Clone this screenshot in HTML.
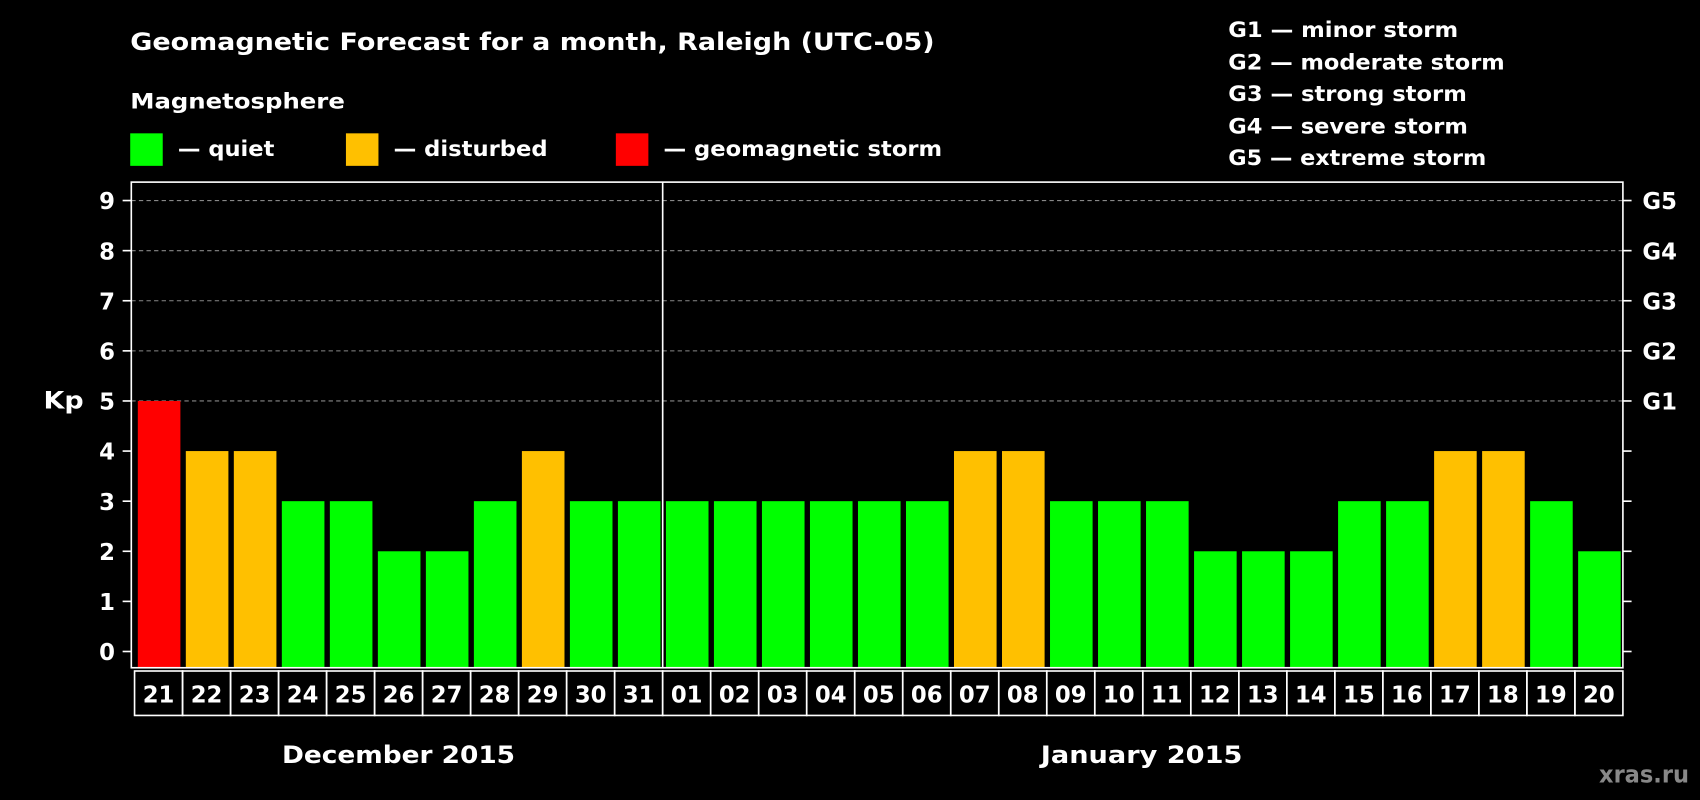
<!DOCTYPE html>
<html><head><meta charset="utf-8"><style>
html,body{margin:0;padding:0;background:#000;}
svg{display:block;}
text{font-family:"DejaVu Sans","Liberation Sans",sans-serif;font-weight:bold;fill:#fff;}
</style></head><body>
<svg id="chart" width="1700" height="800" viewBox="0 0 1568 738" xmlns="http://www.w3.org/2000/svg">
<rect x="0" y="0" width="1568" height="738" fill="#000"/>
<text x="120" y="46" font-size="22" textLength="742" lengthAdjust="spacingAndGlyphs">Geomagnetic Forecast for a month, Raleigh (UTC-05)</text>
<text x="120" y="100" font-size="20" textLength="198" lengthAdjust="spacingAndGlyphs">Magnetosphere</text>
<g><rect x="120" y="123" width="30" height="30" fill="#00ff00"/><text x="164" y="144" font-size="20" textLength="89" lengthAdjust="spacingAndGlyphs">— quiet</text></g>
<g><rect x="319" y="123" width="30" height="30" fill="#ffc000"/><text x="363" y="144" font-size="20" textLength="142" lengthAdjust="spacingAndGlyphs">— disturbed</text></g>
<g><rect x="568" y="123" width="30" height="30" fill="#ff0000"/><text x="612" y="144" font-size="20" textLength="257" lengthAdjust="spacingAndGlyphs">— geomagnetic storm</text></g>
<g font-size="20">
<text x="1133" y="34" textLength="212" lengthAdjust="spacingAndGlyphs">G1 — minor storm</text>
<text x="1133" y="64" textLength="255" lengthAdjust="spacingAndGlyphs">G2 — moderate storm</text>
<text x="1133" y="93" textLength="220" lengthAdjust="spacingAndGlyphs">G3 — strong storm</text>
<text x="1133" y="123" textLength="221" lengthAdjust="spacingAndGlyphs">G4 — severe storm</text>
<text x="1133" y="152" textLength="238" lengthAdjust="spacingAndGlyphs">G5 — extreme storm</text>
</g>
<g id="grid"></g>
<g id="bars"></g>
<g id="axes"></g>
<text x="40" y="377" font-size="22" textLength="37" lengthAdjust="spacingAndGlyphs">Kp</text>
<text x="260" y="704" font-size="22" textLength="215" lengthAdjust="spacingAndGlyphs">December 2015</text>
<text x="960" y="704" font-size="22" textLength="186" lengthAdjust="spacingAndGlyphs">January 2015</text>
<text x="1475" y="722" font-size="22" textLength="83" lengthAdjust="spacingAndGlyphs" style="fill:#888">xras.ru</text>
</svg>
<script>
const days = ["21","22","23","24","25","26","27","28","29","30","31","01","02","03","04","05","06","07","08","09","10","11","12","13","14","15","16","17","18","19","20"];
const kpValues = [5,4,4,3,3,2,2,3,4,3,3,3,3,3,3,3,3,4,4,3,3,3,2,2,2,3,3,4,4,3,2];
const yTicks = [0,1,2,3,4,5,6,7,8,9];
const gLabels = ["","","","","","G1","G2","G3","G4","G5"];

const NS="http://www.w3.org/2000/svg";
const L=121,R=1497,T=168,B=616;
const slotL=123,slotR=1496;
const slot=(slotR-slotL)/days.length;
function y(v){return 601-(601-185)*v/9;}
function x(i){return slotL+i*slot;}
function mk(tag,attrs,parent){const e=document.createElementNS(NS,tag);for(const k in attrs)e.setAttribute(k,attrs[k]);parent.appendChild(e);return e;}
const grid=document.getElementById('grid'),bars=document.getElementById('bars'),axes=document.getElementById('axes');

yTicks.forEach((v,i)=>{
  if(v>=5){
    const g=mk('line',{x1:L,x2:R,y1:y(v),y2:y(v),stroke:'#888','stroke-dasharray':'4,3','stroke-width':1},grid);
    
    
  }
  const t1=mk('line',{x1:L-8,x2:L,y1:y(v),y2:y(v),stroke:'#fff','stroke-width':1.5},axes);
  
  
  const t2=mk('line',{x1:R,x2:R+8,y1:y(v),y2:y(v),stroke:'#fff','stroke-width':1.5},axes);
  
  
  const lb=mk('text',{x:106,y:y(v)+8,'font-size':21,'text-anchor':'end'},axes);
  lb.textContent=v;
  
  
  if(gLabels[i]){
    const gl=mk('text',{x:1515,y:y(v)+8,'font-size':21},axes);
    gl.textContent=gLabels[i];
    
    
  }
});

kpValues.forEach((v,i)=>{
  const col=v>=5?'#ff0000':(v>=4?'#ffc000':'#00ff00');
  const r=mk('rect',{x:x(i)+4,y:y(v),width:slot-5,height:B-y(v),fill:col},bars);
  
  
  const c=mk('rect',{x:x(i)+1,y:619,width:slot,height:41,fill:'none',stroke:'#fff','stroke-width':1.5},axes);
  
  
  const t=mk('text',{x:x(i)+1+slot/2,y:648,'font-size':21,'text-anchor':'middle'},axes);
  t.textContent=days[i];
  
  
});

const frame=mk('rect',{x:L,y:T,width:R-L,height:B-T,fill:'none',stroke:'#fff','stroke-width':1.5},axes);


const sepIdx=days.indexOf("01");
const sep=mk('line',{x1:x(sepIdx)+1,x2:x(sepIdx)+1,y1:T,y2:B,stroke:'#fff','stroke-width':1.5},axes);


</script>
</body></html>
